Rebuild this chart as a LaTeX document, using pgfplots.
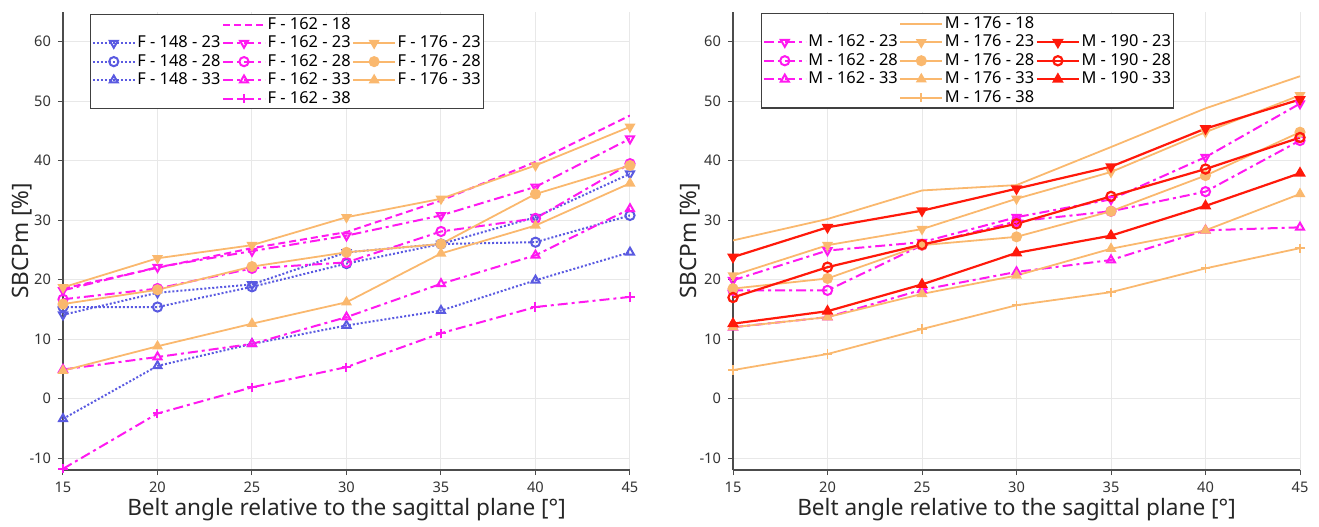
\documentclass[border=0pt]{standalone}
\usepackage{pgfplots}
\pgfplotsset{compat=1.18}
\usepackage{fontspec}
\setmainfont{Noto Sans}

\definecolor{cblue}{RGB}{90,90,225}
\definecolor{cmag}{RGB}{255,25,240}
\definecolor{corange}{RGB}{250,184,110}
\definecolor{cred}{RGB}{255,25,10}

% belt-angle grid shared by every series
\pgfplotstableread{
x   F148a F148b F148c F162a F162b F162c F162d F162e F176a F176b F176c
15  14.1  15.4  -3.4  18.5  18.2  16.7   4.9 -11.8  18.7  15.9   4.7
20  17.8  15.4   5.5  22.0  22.1  18.5   7.0  -2.5  23.6  18.3   8.8
25  19.2  18.8   9.2  25.3  24.8  21.9   9.2   1.9  25.8  22.2  12.6
30  24.6  22.7  12.3  28.0  27.4  22.9  13.7   5.3  30.5  24.6  16.2
35  26.0  26.0  14.8  33.3  30.8  28.1  19.3  11.0  33.6  26.0  24.4
40  30.5  26.3  19.9  39.8  35.6  30.3  24.1  15.4  39.2  34.4  29.1
45  37.8  30.8  24.6  47.6  43.7  39.5  31.9  17.1  45.7  39.2  36.2
}\female

\pgfplotstableread{
x   M162a M162b M162c M176a M176b M176c M176d M176e M190a M190b M190c
15  19.9  18.2  12.0  26.6  20.7  18.5  12.0   4.8  23.8  17.0  12.6
20  24.9  18.2  13.7  30.2  25.8  20.2  13.7   7.5  28.8  22.1  14.7
25  26.3  25.8  18.3  35.0  28.5  25.8  17.6  11.7  31.6  25.9  19.2
30  30.5  29.8  21.3  35.9  33.6  27.2  20.7  15.7  35.3  29.4  24.5
35  33.5  31.5  23.3  42.3  38.1  31.5  25.2  17.9  39.0  34.0  27.4
40  40.6  34.8  28.3  48.8  44.8  37.5  28.3  21.9  45.4  38.6  32.4
45  49.6  43.4  28.8  54.2  51.0  44.8  34.4  25.3  50.3  43.9  37.9
}\male

\pgfplotsset{
  sbcp/.style={
    scale only axis, width=283.5pt, height=229pt,
    xmin=15, xmax=45, ymin=-12, ymax=65,
    xtick={15,20,...,45}, ytick={-10,0,...,60},
    axis x line*=bottom, axis y line*=left,
    axis line style={draw=black!70, line width=0.6pt},
    tick style={draw=black!70, line width=0.5pt},
    tick align=outside, major tick length=2.5pt,
    grid=major, grid style={draw=black!9, line width=0.5pt},
    /pgf/number format/assume math mode=true,
    tick label style={font=\fontsize{7.3}{8}\selectfont, text=black!80},
    label style={font=\fontsize{11.3}{13}\selectfont, text=black!85},
    xlabel={Belt angle relative to the sagittal plane [°]},
    ylabel={SBCPm [\%]},
    xlabel style={at={(axis description cs:0.5,-0.087)}, anchor=center},
    legend columns=3,
    legend cell align=left,
    legend style={font=\fontsize{8.2}{9}\selectfont, draw=black!75,
      line width=0.6pt, anchor=north west, inner sep=0.6pt, row sep=0.2pt,
      nodes={inner sep=0.8pt},
      /tikz/every even column/.append style={column sep=0pt},
      /tikz/every odd column/.append style={column sep=0pt}},
    legend image code/.code={\draw[mark repeat=2,mark phase=2]
      plot coordinates {(0pt,0pt) (10.5pt,0pt) (21pt,0pt)};},
  },
  sblue/.style={cblue, line width=1pt, densely dotted, mark size=2.3pt,
    every mark/.append style={solid, fill=white}},
  smag/.style={cmag, line width=1pt, dash pattern=on 5pt off 2pt on 1.5pt off 2pt,
    mark size=2.3pt, every mark/.append style={solid, fill=white}},
  sorange/.style={corange, line width=0.9pt, mark size=2.3pt,
    every mark/.append style={solid, fill=corange}},
  sred/.style={cred, line width=1.1pt, mark size=2.3pt,
    every mark/.append style={solid}},
  redfill/.style={every mark/.append style={fill=cred}},
  down/.style={every mark/.append style={rotate=180}},
}

\begin{document}
\begin{tikzpicture}
\path[use as bounding box] (-31.5pt,-28pt) rectangle (628pt,235pt);

% ---------------- female occupants ----------------
\begin{axis}[sbcp, ylabel style={at={(axis description cs:-0.0725,0.5)}, anchor=center},
  legend style={at={(rel axis cs:0.0476,0.996)}}]
\addplot[sblue, mark=triangle, down, forget plot] table[y=F148a] {\female};
\addplot[sblue, mark=o, forget plot] table[y=F148b] {\female};
\addplot[sblue, mark=triangle, forget plot] table[y=F148c] {\female};
\addplot[smag, dash pattern=on 3.5pt off 2pt, forget plot] table[y=F162a] {\female};
\addplot[smag, mark=triangle, down, forget plot] table[y=F162b] {\female};
\addplot[smag, mark=o, forget plot] table[y=F162c] {\female};
\addplot[smag, mark=triangle, forget plot] table[y=F162d] {\female};
\addplot[smag, mark=+, forget plot] table[y=F162e] {\female};
\addplot[sorange, mark=triangle*, down, forget plot] table[y=F176a] {\female};
\addplot[sorange, mark=*, forget plot] table[y=F176b] {\female};
\addplot[sorange, mark=triangle*, forget plot] table[y=F176c] {\female};

\addlegendimage{empty legend}\addlegendentry{}
\addlegendimage{smag, dash pattern=on 3.5pt off 2pt}\addlegendentry{F - 162 - 18}
\addlegendimage{empty legend}\addlegendentry{}
\addlegendimage{sblue, mark=triangle, down}\addlegendentry{F - 148 - 23}
\addlegendimage{smag, mark=triangle, down}\addlegendentry{F - 162 - 23}
\addlegendimage{sorange, mark=triangle*, down}\addlegendentry{F - 176 - 23}
\addlegendimage{sblue, mark=o}\addlegendentry{F - 148 - 28}
\addlegendimage{smag, mark=o}\addlegendentry{F - 162 - 28}
\addlegendimage{sorange, mark=*}\addlegendentry{F - 176 - 28}
\addlegendimage{sblue, mark=triangle}\addlegendentry{F - 148 - 33}
\addlegendimage{smag, mark=triangle}\addlegendentry{F - 162 - 33}
\addlegendimage{sorange, mark=triangle*}\addlegendentry{F - 176 - 33}
\addlegendimage{empty legend}\addlegendentry{}
\addlegendimage{smag, mark=+}\addlegendentry{F - 162 - 38}
\addlegendimage{empty legend}\addlegendentry{}
\end{axis}

% ---------------- male occupants ----------------
\begin{axis}[sbcp, at={(335pt,0pt)}, anchor=south west,
  ylabel style={at={(axis description cs:-0.0758,0.5)}, anchor=center},
  legend style={at={(rel axis cs:0.0494,0.998)}}]
\addplot[smag, mark=triangle, down, forget plot] table[y=M162a] {\male};
\addplot[smag, mark=o, forget plot] table[y=M162b] {\male};
\addplot[smag, mark=triangle, forget plot] table[y=M162c] {\male};
\addplot[sorange, forget plot] table[y=M176a] {\male};
\addplot[sorange, mark=triangle*, down, forget plot] table[y=M176b] {\male};
\addplot[sorange, mark=*, forget plot] table[y=M176c] {\male};
\addplot[sorange, mark=triangle*, forget plot] table[y=M176d] {\male};
\addplot[sorange, mark=+, forget plot] table[y=M176e] {\male};
\addplot[sred, mark=triangle*, down, redfill, forget plot] table[y=M190a] {\male};
\addplot[sred, mark=o, forget plot] table[y=M190b] {\male};
\addplot[sred, mark=triangle*, redfill, forget plot] table[y=M190c] {\male};

\addlegendimage{empty legend}\addlegendentry{}
\addlegendimage{sorange}\addlegendentry{M - 176 - 18}
\addlegendimage{empty legend}\addlegendentry{}
\addlegendimage{smag, mark=triangle, down}\addlegendentry{M - 162 - 23}
\addlegendimage{sorange, mark=triangle*, down}\addlegendentry{M - 176 - 23}
\addlegendimage{sred, mark=triangle*, down, redfill}\addlegendentry{M - 190 - 23}
\addlegendimage{smag, mark=o}\addlegendentry{M - 162 - 28}
\addlegendimage{sorange, mark=*}\addlegendentry{M - 176 - 28}
\addlegendimage{sred, mark=o}\addlegendentry{M - 190 - 28}
\addlegendimage{smag, mark=triangle}\addlegendentry{M - 162 - 33}
\addlegendimage{sorange, mark=triangle*}\addlegendentry{M - 176 - 33}
\addlegendimage{sred, mark=triangle*, redfill}\addlegendentry{M - 190 - 33}
\addlegendimage{empty legend}\addlegendentry{}
\addlegendimage{sorange, mark=+}\addlegendentry{M - 176 - 38}
\addlegendimage{empty legend}\addlegendentry{}
\end{axis}
\end{tikzpicture}
\end{document}
